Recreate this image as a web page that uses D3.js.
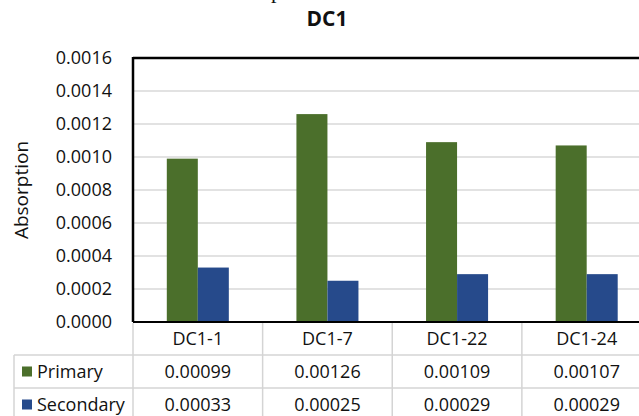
<!DOCTYPE html>
<html>
<head>
<meta charset="utf-8">
<script src="https://cdn.jsdelivr.net/npm/d3@7"></script>
<style>
  html, body { margin: 0; padding: 0; background: #fff; }
  svg { display: block; }
  text { font-family: "Open Sans", sans-serif; fill: #111; }
</style>
</head>
<body>
<svg id="chart" width="639" height="416"></svg>
<script>
const categories = ["DC1-1", "DC1-7", "DC1-22", "DC1-24"];
const seriesNames = ["Primary", "Secondary"];
const primary = [0.00099, 0.00126, 0.00109, 0.00107];
const secondary = [0.00033, 0.00025, 0.00029, 0.00029];
const primaryLabels = ["0.00099", "0.00126", "0.00109", "0.00107"];
const secondaryLabels = ["0.00033", "0.00025", "0.00029", "0.00029"];
const yTicks = [0, 0.0002, 0.0004, 0.0006, 0.0008, 0.0010, 0.0012, 0.0014, 0.0016];
const colors = ["#4b6f2b", "#264a8b"];

const svg = d3.select("#chart");
const plotLeft = 133, plotRight = 651.5, plotTop = 58, plotBottom = 322;

const x = d3.scaleBand().domain(categories).range([plotLeft, plotRight]);
const xSub = d3.scaleBand().domain(seriesNames).range([0, x.bandwidth()]).paddingInner(0).paddingOuter(1.09);
const y = d3.scaleLinear().domain([0, 0.0016]).range([plotBottom, plotTop]);

// cropped caption fragment from the text above the figure
svg.append("text").attr("x", 271).attr("y", -2)
  .style("font-family", "'Liberation Serif', serif").style("font-size", "22px").text("p");

// title
svg.append("text").attr("x", 327).attr("y", 26).attr("text-anchor", "middle")
  .style("font-size", "21px").style("font-weight", "bold").text("DC1");

// gridlines
svg.append("g").selectAll("line").data(yTicks.slice(1, -1)).join("line")
  .attr("x1", plotLeft).attr("x2", 639)
  .attr("y1", d => y(d)).attr("y2", d => y(d))
  .attr("stroke", "#d9d9d9").attr("stroke-width", 1.5);

// y axis
const yAxis = d3.axisLeft(y).tickValues(yTicks).tickFormat(d3.format(".4f")).tickSize(0).tickPadding(21);
const ya = svg.append("g").attr("transform", `translate(${plotLeft},0)`).call(yAxis);
ya.select(".domain").remove();
ya.selectAll("text").style("font-size", "18px").style("font-family", "'Open Sans', sans-serif").attr("fill", "#111");

// bars
const data = categories.map((c, i) => ({ cat: c, values: [primary[i], secondary[i]] }));
const groups = svg.append("g").selectAll("g").data(data).join("g")
  .attr("transform", d => `translate(${x(d.cat)},0)`);
groups.selectAll("rect").data(d => d.values.map((v, j) => ({ key: seriesNames[j], v, j }))).join("rect")
  .attr("x", d => xSub(d.key)).attr("width", xSub.bandwidth())
  .attr("y", d => y(d.v)).attr("height", d => y(0) - y(d.v))
  .attr("fill", d => colors[d.j]);

// plot borders
svg.append("line").attr("x1", plotLeft).attr("x2", 639).attr("y1", plotTop).attr("y2", plotTop)
  .attr("stroke", "#000").attr("stroke-width", 2.5);
svg.append("line").attr("x1", plotLeft).attr("x2", plotLeft).attr("y1", plotTop - 1).attr("y2", plotBottom)
  .attr("stroke", "#000").attr("stroke-width", 2.5);
svg.append("line").attr("x1", plotLeft).attr("x2", 639).attr("y1", plotBottom).attr("y2", plotBottom)
  .attr("stroke", "#000").attr("stroke-width", 2);

// data table
const rowH = 33;
const rowTops = [plotBottom, plotBottom + rowH, plotBottom + 2 * rowH];
const tableLeft = 14;
const grid = svg.append("g").attr("stroke", "#d4d4d4").attr("stroke-width", 1.5);
grid.selectAll("line.v").data(categories).join("line").attr("class", "v")
  .attr("x1", d => x(d)).attr("x2", d => x(d))
  .attr("y1", plotBottom + 1).attr("y2", 420);
grid.append("line").attr("x1", tableLeft).attr("x2", tableLeft).attr("y1", rowTops[1]).attr("y2", 420);
grid.selectAll("line.h").data([rowTops[1], rowTops[2]]).join("line").attr("class", "h")
  .attr("x1", tableLeft).attr("x2", 639).attr("y1", d => d).attr("y2", d => d);

const fs = "18px";
svg.append("g").selectAll("text").data(categories).join("text")
  .attr("x", d => x(d) + x.bandwidth() / 2).attr("y", rowTops[0] + rowH / 2)
  .attr("dy", "0.35em").attr("text-anchor", "middle").style("font-size", fs).text(d => d);

const rows = [primaryLabels, secondaryLabels];
rows.forEach((labels, r) => {
  const cy = rowTops[r + 1] + rowH / 2;
  svg.append("rect").attr("x", 22).attr("y", cy - 5).attr("width", 10).attr("height", 10).attr("fill", colors[r]);
  svg.append("text").attr("x", 37).attr("y", cy).attr("dy", "0.35em").style("font-size", fs).text(seriesNames[r]);
  svg.append("g").selectAll("text").data(categories).join("text")
    .attr("x", d => x(d) + x.bandwidth() / 2).attr("y", cy).attr("dy", "0.35em")
    .attr("text-anchor", "middle").style("font-size", fs).text((d, i) => labels[i]);
});

// y axis title
svg.append("text").attr("transform", `translate(28,${(plotTop + plotBottom) / 2}) rotate(-90)`)
  .attr("text-anchor", "middle").style("font-size", "19px").text("Absorption");
</script>
</body>
</html>
